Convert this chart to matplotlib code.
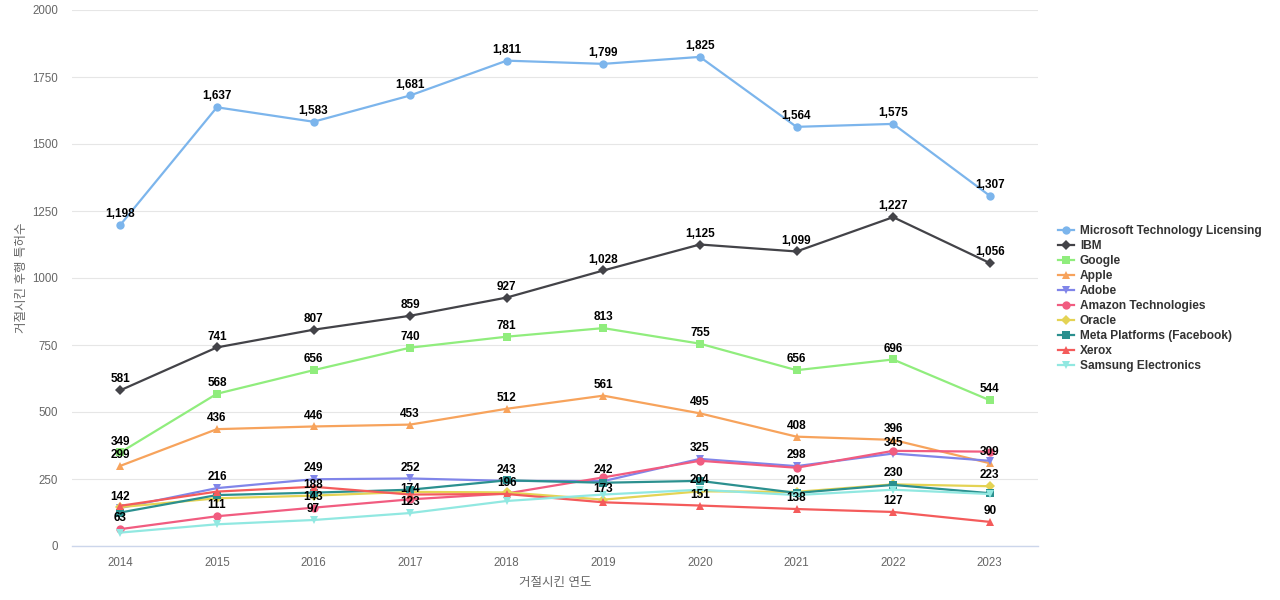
import matplotlib
matplotlib.use("Agg")
import matplotlib.pyplot as plt
from matplotlib.ticker import FuncFormatter
from matplotlib.transforms import Bbox

plt.rcParams['font.family'] = ['Liberation Sans', 'Noto Sans CJK KR', 'DejaVu Sans']

years = [2014, 2015, 2016, 2017, 2018, 2019, 2020, 2021, 2022, 2023]

microsoft = [1198, 1637, 1583, 1681, 1811, 1799, 1825, 1564, 1575, 1307]
ibm = [581, 741, 807, 859, 927, 1028, 1125, 1099, 1227, 1056]
google = [349, 568, 656, 740, 781, 813, 755, 656, 696, 544]
apple = [299, 436, 446, 453, 512, 561, 495, 408, 396, 309]
adobe = [142, 216, 249, 252, 243, 242, 325, 298, 345, 318]
amazon = [63, 111, 143, 174, 196, 256, 318, 292, 355, 352]
oracle = [145, 178, 188, 202, 200, 173, 204, 202, 230, 223]
meta = [125, 190, 199, 210, 245, 236, 243, 198, 228, 197]
xerox = [150, 203, 221, 192, 194, 163, 151, 138, 127, 90]
samsung = [50, 81, 97, 123, 168, 192, 210, 190, 210, 194]

series = [
    ("Microsoft Technology Licensing", microsoft, "#7cb5ec", "o"),
    ("IBM", ibm, "#434348", "D"),
    ("Google", google, "#90ed7d", "s"),
    ("Apple", apple, "#f7a35c", "^"),
    ("Adobe", adobe, "#8085e9", "v"),
    ("Amazon Technologies", amazon, "#f15c80", "o"),
    ("Oracle", oracle, "#e4d354", "D"),
    ("Meta Platforms (Facebook)", meta, "#2b908f", "s"),
    ("Xerox", xerox, "#f45b5b", "^"),
    ("Samsung Electronics", samsung, "#91e8e1", "v"),
]

fig = plt.figure(figsize=(12.8, 6.0), dpi=100)
ax = fig.add_axes([72 / 1280, 1 - 546 / 600, (1038 - 72) / 1280, (546 - 10) / 600])

x = list(range(len(years)))
handles = []
for name, vals, color, mk in series:
    ms = 5 if mk in ("D",) else 6
    h, = ax.plot(x, vals, color=color, lw=1.6, marker=mk, ms=ms,
                 markeredgewidth=0, label=name, zorder=3)
    handles.append(h)

ax.set_xlim(-0.5, len(years) - 0.5)
ax.set_ylim(0, 2000)
ax.set_yticks(range(0, 2001, 250))
ax.set_xticks(x)
ax.set_xticklabels([str(y) for y in years])
ax.yaxis.set_major_formatter(FuncFormatter(lambda v, p: f"{int(v)}"))
ax.grid(axis='y', color='#e6e6e6', lw=0.8, zorder=0)
for s in ['top', 'right', 'left']:
    ax.spines[s].set_visible(False)
ax.spines['bottom'].set_color('#ccd6eb')
ax.spines['bottom'].set_linewidth(1)
ax.tick_params(axis='both', length=0, labelsize=8.3, colors='#666666')
ax.tick_params(axis='x', pad=8)
ax.tick_params(axis='y', pad=10)
ax.set_xlabel("거절시킨 연도", fontsize=9, color='#666666', labelpad=6)
ax.set_ylabel("거절시킨 후행 특허수", fontsize=9, color='#666666', labelpad=3)

# data labels with overlap hiding
fig.canvas.draw()
renderer = fig.canvas.get_renderer()
shown = []
for name, vals, color, mk in series:
    for i, v in enumerate(vals):
        t = ax.annotate(f"{v:,}", (i, v), xytext=(0, 3.5), textcoords='offset points',
                        ha='center', va='bottom', fontsize=8.5, fontweight='bold',
                        color='#000000', zorder=5)
        bb = t.get_window_extent(renderer)
        cy = (bb.y0 + bb.y1) / 2
        box = Bbox.from_extents(bb.x0, cy - 5.9, bb.x1, cy + 5.9)
        if any(box.overlaps(o) for o in shown):
            t.remove()
        else:
            shown.append(box)

leg = fig.legend(handles=handles, loc='center left',
                 bbox_to_anchor=(1053 / 1280, 1 - 298.5 / 600), frameon=False,
                 prop={'size': 8.6, 'weight': 'bold'}, handlelength=1.35,
                 handletextpad=0.5, labelspacing=0.255, borderaxespad=0)
for txt in leg.get_texts():
    txt.set_color('#333333')

fig.savefig("out.png", dpi=100)
